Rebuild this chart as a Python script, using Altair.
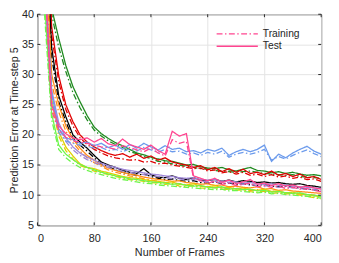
import altair as alt
import pandas as pd

frames = list(range(10, 401, 10))
x_ticks = [0, 80, 160, 240, 320, 400]
y_ticks = [5, 10, 15, 20, 25, 30, 35, 40]

green_test = [75, 41, 36, 31.5, 28, 25.5, 23.2, 21.3, 20.2, 19.4, 18.7, 18.2, 17.6, 17.0, 16.7, 16.3, 16.0, 15.7, 15.6, 15.3,
              15.0, 15.1, 14.7, 14.5, 14.4, 14.6, 14.2, 14.0, 14.3, 14.6, 14.1, 14.0, 13.7, 13.9, 13.6, 13.8, 13.5, 13.3, 13.4, 13.2]
green_train = [73, 40, 34.5, 30.5, 27, 24.5, 22.5, 20.8, 19.8, 19.0, 18.4, 17.9, 17.2, 16.9, 16.4, 16.1, 15.6, 15.5, 15.2, 15.0,
               14.8, 14.6, 14.4, 14.3, 14.1, 14.0, 13.9, 13.8, 13.9, 14.0, 13.8, 13.6, 13.5, 13.4, 13.3, 13.4, 13.1, 13.0, 12.9, 12.8]
red_test = [70, 38, 29.8, 25.0, 22.2, 20.0, 18.8, 18.0, 17.4, 16.9, 16.6, 16.9, 16.3, 16.8, 16.1, 16.5, 15.8, 16.2, 15.5, 15.2,
            15.0, 14.6, 14.9, 14.2, 14.6, 13.9, 14.4, 13.8, 14.3, 13.6, 13.8, 13.4, 14.0, 13.3, 13.6, 13.1, 13.5, 12.9, 13.1, 12.6]
red_train = [67, 36.5, 28.8, 24.2, 21.5, 19.5, 18.4, 17.6, 17.0, 16.5, 16.2, 16.0, 15.8, 15.9, 15.5, 15.6, 15.2, 15.3, 15.0, 14.8,
             14.6, 14.4, 14.5, 14.0, 14.2, 13.7, 13.9, 13.5, 13.8, 13.3, 13.5, 13.1, 13.4, 13.0, 13.2, 12.8, 13.0, 12.6, 12.7, 12.3]
black_test = [58, 34.5, 26.5, 23.0, 20.0, 18.8, 17.8, 16.6, 15.5, 15.0, 14.6, 14.1, 13.8, 13.6, 14.4, 13.4, 13.0, 12.9, 13.2, 12.8,
              12.6, 12.9, 12.5, 12.4, 12.6, 12.3, 12.5, 12.2, 12.4, 12.3, 12.1, 12.2, 12.0, 12.1, 11.9, 11.8, 11.9, 11.6, 11.5, 11.3]
black_train = [56, 33, 25.5, 22.2, 19.4, 18.3, 17.3, 16.2, 15.2, 14.7, 14.2, 13.8, 13.5, 13.3, 13.5, 13.1, 12.8, 12.6, 12.7, 12.4,
               12.3, 12.4, 12.1, 12.0, 12.2, 11.9, 12.0, 11.8, 11.9, 11.7, 11.6, 11.8, 11.5, 11.4, 11.5, 11.3, 11.2, 11.0, 10.9, 10.7]
orange_test = [55, 30, 25, 21.5, 19.3, 17.8, 16.6, 15.8, 15.0, 14.5, 14.1, 13.8, 13.5, 13.3, 13.0, 12.8, 12.6, 12.5, 12.3, 12.4,
               12.1, 12.0, 11.8, 11.9, 11.6, 11.7, 11.4, 11.5, 11.3, 11.2, 11.4, 11.0, 11.1, 10.8, 10.9, 10.7, 10.6, 10.5, 10.4, 10.3]
orange_train = [52, 28.5, 23.8, 20.6, 18.7, 17.3, 16.2, 15.4, 14.8, 14.2, 13.8, 13.5, 13.2, 13.0, 12.7, 12.5, 12.3, 12.1, 12.0, 11.9,
                11.7, 11.6, 11.5, 11.4, 11.3, 11.2, 11.1, 11.2, 10.9, 10.8, 10.9, 10.6, 10.7, 10.5, 10.4, 10.3, 10.2, 10.1, 10.0, 9.9]
purple_test = [47, 27.5, 22, 19.5, 18.0, 17.0, 16.3, 15.8, 15.3, 14.9, 14.6, 14.3, 14.1, 13.9, 13.7, 13.5, 13.4, 13.2, 13.1, 12.9,
               12.8, 12.9, 12.6, 12.5, 12.6, 12.3, 12.4, 12.2, 12.0, 12.1, 11.9, 11.8, 11.9, 11.6, 11.7, 11.5, 11.4, 11.3, 11.2, 11.1]
purple_train = [45, 26.5, 21.2, 18.9, 17.5, 16.6, 15.9, 15.4, 15.0, 14.6, 14.3, 14.0, 13.8, 13.6, 13.4, 13.2, 13.1, 12.9, 12.8, 12.7,
                12.5, 12.6, 12.3, 12.2, 12.3, 12.0, 12.1, 11.9, 11.8, 11.8, 11.6, 11.5, 11.6, 11.3, 11.4, 11.2, 11.1, 11.0, 10.9, 10.8]
yellow_test = [46, 26, 20.5, 18.0, 16.5, 15.2, 14.6, 14.4, 14.0, 13.7, 13.4, 13.1, 12.9, 12.8, 12.6, 12.4, 12.3, 12.1, 12.2, 11.8,
               11.7, 11.9, 11.5, 11.4, 11.6, 11.2, 11.3, 11.0, 11.2, 10.9, 10.8, 11.0, 10.6, 10.7, 10.4, 10.5, 10.2, 10.1, 9.9, 9.7]
yellow_train = [44, 25, 19.8, 17.4, 16.0, 14.9, 14.5, 14.0, 13.7, 13.4, 13.1, 12.8, 12.6, 12.5, 12.3, 12.1, 12.0, 11.8, 11.9, 11.5,
                11.4, 11.6, 11.2, 11.1, 11.3, 10.9, 11.0, 10.8, 10.9, 10.6, 10.5, 10.7, 10.3, 10.4, 10.2, 10.2, 10.0, 9.8, 9.6, 9.4]
lightgreen_test = [42, 23.5, 18.3, 16.8, 15.9, 15.1, 14.6, 14.2, 13.8, 13.5, 13.2, 13.0, 12.7, 12.6, 12.4, 12.2, 12.1, 12.0, 11.8, 11.9,
                   11.6, 11.5, 11.6, 11.3, 11.2, 11.4, 11.0, 11.1, 10.9, 11.0, 10.7, 10.8, 10.5, 10.6, 10.4, 10.3, 10.4, 10.1, 10.0, 9.8]
lightgreen_train = [40, 22.5, 17.6, 16.2, 15.3, 14.6, 14.1, 13.7, 13.4, 13.1, 12.8, 12.6, 12.4, 12.2, 12.0, 11.9, 11.7, 11.6, 11.5, 11.4,
                    11.3, 11.2, 11.1, 11.0, 10.9, 11.0, 10.7, 10.8, 10.6, 10.5, 10.4, 10.5, 10.2, 10.3, 10.1, 10.0, 9.9, 9.8, 9.7, 9.5]
blue_test = [47, 27, 21, 19.5, 19.2, 18.6, 18.8, 18.2, 18.6, 17.9, 18.3, 17.6, 18.4, 17.8, 18.6, 18.0, 17.5, 18.2, 17.6, 17.8,
             17.2, 17.4, 17.0, 17.6, 17.3, 17.8, 16.6, 17.2, 17.6, 17.2, 17.6, 18.3, 15.6, 16.8, 16.2, 17.0, 17.6, 18.1, 17.3, 16.8]
blue_train = [45, 26, 20.4, 19.0, 18.6, 18.3, 18.1, 17.8, 17.9, 17.4, 17.6, 17.2, 17.7, 17.3, 17.9, 17.5, 17.1, 17.6, 17.2, 17.3,
              16.8, 17.0, 16.6, 17.1, 16.8, 17.3, 16.3, 16.8, 17.1, 16.8, 17.1, 17.6, 15.8, 16.4, 16.0, 16.6, 17.1, 17.5, 16.9, 16.4]
pink_test = [48, 25, 21.5, 20.2, 19.5, 19.2, 19.5, 18.8, 19.4, 18.5, 18.2, 19.3, 18.4, 18.0, 17.6, 18.3, 17.4, 16.8, 20.6, 19.8,
             20.2, 13.2, 12.8, 12.4, 12.8, 12.1, 12.5, 11.9, 12.2, 12.6, 11.8, 12.0, 11.6, 11.9, 11.5, 11.7, 11.3, 11.5, 11.2, 11.0]
pink_train = [46, 24, 20.8, 19.6, 19.0, 18.8, 18.6, 18.3, 18.0, 17.9, 17.6, 18.2, 17.9, 17.5, 17.2, 17.8, 17.0, 16.5, 19.2, 18.6,
              18.9, 12.8, 12.4, 12.0, 12.3, 11.8, 12.0, 11.6, 11.8, 12.0, 11.4, 11.6, 11.3, 11.5, 11.1, 11.3, 11.0, 11.1, 10.8, 10.6]

series_names = ["green", "red", "black", "orange", "purple", "yellow", "lightgreen", "blue", "pink"]
series_colors = ["#1f8a1f", "#e00000", "#000000", "#ff8c1a", "#9f86d8", "#e0cf00", "#6cf54c", "#6c9bec", "#ff4590"]
series_data = [
    (green_test, green_train), (red_test, red_train), (black_test, black_train),
    (orange_test, orange_train), (purple_test, purple_train), (yellow_test, yellow_train),
    (lightgreen_test, lightgreen_train), (blue_test, blue_train), (pink_test, pink_train),
]

rows = []
for name, (test, train) in zip(series_names, series_data):
    for kind, vals in (("Training", train), ("Test", test)):
        for f, v in zip(frames, vals):
            rows.append({"series": name, "kind": kind, "frames": f, "error": v})
df = pd.DataFrame(rows)

PLOT_W, PLOT_H = 289, 215
FONT = "Liberation Sans"
AX = "#262626"
PINK = "#ff4590"
DASHDOT = [6, 2.5, 1.5, 2.5]

xs = alt.Scale(domain=[0, 400], nice=False, zero=False)
ys = alt.Scale(domain=[5, 40], nice=False, zero=False)
xaxis = alt.Axis(values=x_ticks, ticks=False, domain=False, grid=True, labelPadding=7, titlePadding=4)
yaxis = alt.Axis(values=y_ticks, ticks=False, domain=False, grid=True, labelPadding=4, titlePadding=2)


def X(field="frames:Q"):
    return alt.X(field, scale=xs, axis=xaxis, title="Number of Frames")


def Y(field="error:Q"):
    return alt.Y(field, scale=ys, axis=yaxis, title="Prediction Error at Time-step 5")


lines = alt.Chart(df).mark_line(clip=True, strokeWidth=1.3).encode(
    x=X(), y=Y(),
    color=alt.Color("series:N", scale=alt.Scale(domain=series_names, range=series_colors), legend=None),
    strokeDash=alt.StrokeDash("kind:N", scale=alt.Scale(domain=["Training", "Test"], range=[DASHDOT, [1, 0]]), legend=None),
)

xt = pd.DataFrame({"frames": x_ticks})
yt = pd.DataFrame({"error": y_ticks})
tb = alt.Chart(xt).mark_rule(color=AX, strokeWidth=1).encode(x=X(), y=alt.value(PLOT_H), y2=alt.value(PLOT_H - 3))
tt = alt.Chart(xt).mark_rule(color=AX, strokeWidth=1).encode(x=X(), y=alt.value(0), y2=alt.value(3))
tl = alt.Chart(yt).mark_rule(color=AX, strokeWidth=1).encode(y=Y(), x=alt.value(0), x2=alt.value(3))
tr = alt.Chart(yt).mark_rule(color=AX, strokeWidth=1).encode(y=Y(), x=alt.value(PLOT_W), x2=alt.value(PLOT_W - 3))

one = pd.DataFrame({"a": [0]})
LEG_Y1, LEG_Y2 = 20, 32.5
leg_train = alt.Chart(one).mark_rule(color=PINK, strokeWidth=1.5, strokeDash=DASHDOT).encode(
    x=alt.value(182.5), x2=alt.value(224.5), y=alt.value(LEG_Y1), y2=alt.value(LEG_Y1))
leg_test = alt.Chart(one).mark_rule(color=PINK, strokeWidth=1.5).encode(
    x=alt.value(182.5), x2=alt.value(224.5), y=alt.value(LEG_Y2), y2=alt.value(LEG_Y2))
txt_train = alt.Chart(one).mark_text(align="left", baseline="middle", font=FONT, fontSize=10.5, color=AX, text="Training").encode(
    x=alt.value(229.5), y=alt.value(LEG_Y1))
txt_test = alt.Chart(one).mark_text(align="left", baseline="middle", font=FONT, fontSize=10.5, color=AX, text="Test").encode(
    x=alt.value(229.5), y=alt.value(LEG_Y2))

chart = alt.layer(lines, tb, tt, tl, tr, leg_train, leg_test, txt_train, txt_test).properties(
    width=PLOT_W, height=PLOT_H,
    background="white",
    autosize=alt.AutoSizeParams(type="none"),
    padding={"left": 30, "top": 4, "right": 10, "bottom": 36},
).configure_view(stroke=AX, strokeWidth=1).configure_axis(
    labelFont=FONT, titleFont=FONT, labelFontSize=11, titleFontSize=11, titleFontWeight="normal",
    labelColor=AX, titleColor=AX, gridColor="#e3e3e3", gridWidth=1,
)

chart.save("out.html", embed_options={"renderer": "svg", "actions": False})
